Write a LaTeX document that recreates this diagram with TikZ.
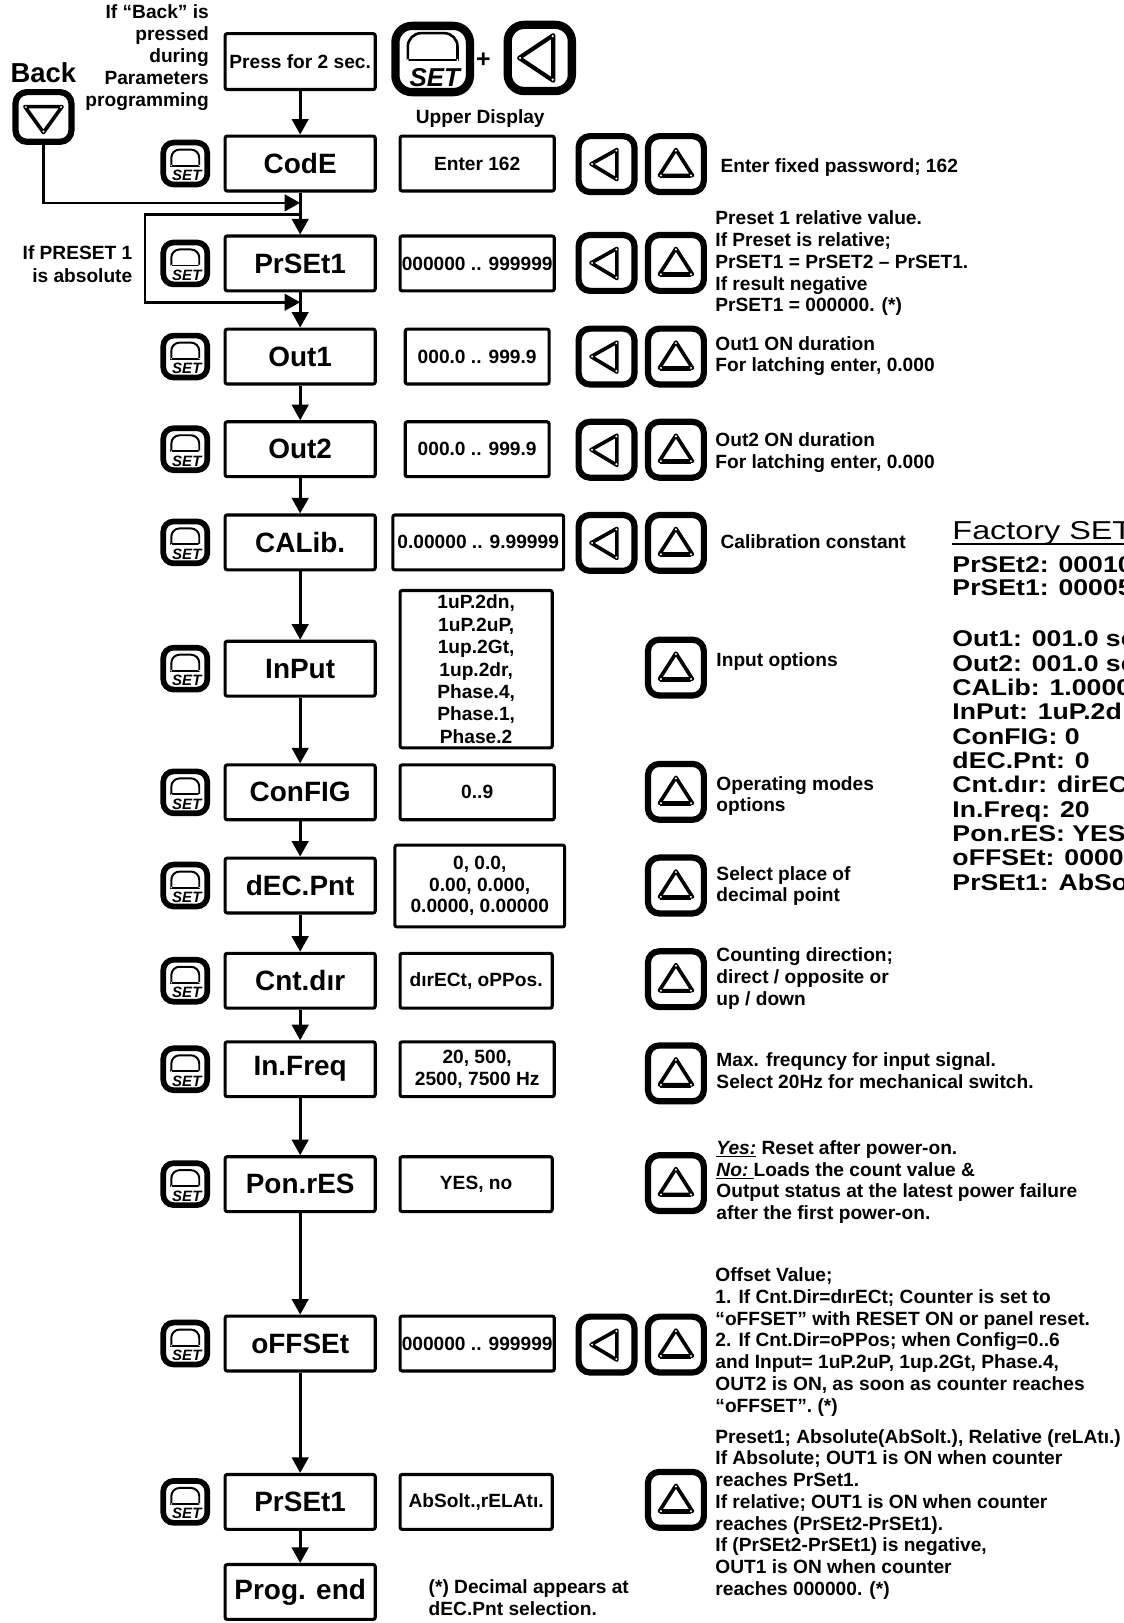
\documentclass[tikz,border=0pt]{standalone}
\usepackage{fontspec}
\setmainfont{Liberation Sans}
\newfontfamily\facfont[FakeStretch=1.17]{Liberation Sans}
\newfontfamily\titfont[FakeStretch=1.25]{Liberation Sans}
\usetikzlibrary{arrows.meta,calc}
\tikzset{
  bx/.style={draw, line width=3pt, rounded corners=2pt, inner sep=0pt},
  mainbox/.style={bx, minimum width=145pt, minimum height=53pt, font=\fontsize{27}{30}\selectfont\bfseries},
  valbox/.style={bx, minimum height=53pt, align=center, font=\fontsize{18.5}{21}\selectfont\bfseries},
  keyframe/.style={draw, line width=6pt, rounded corners=11pt, inner sep=0pt, minimum width=54pt, minimum height=54pt},
  smallkey/.style={draw, line width=5.5pt, rounded corners=10pt, inner sep=0pt, minimum width=42.5pt, minimum height=40.5pt},
  glyph/.style={line width=3.5pt, line join=round},
  settxt/.style={inner sep=0pt, font=\fontsize{14.5}{15}\selectfont\bfseries\itshape},
  flow/.style={line width=2.6pt, -{Triangle[length=15pt,width=16pt]}},
  desc/.style={anchor=north west, inner sep=0pt, align=left, font=\fontsize{18.5}{21}\selectfont\bfseries, execute at begin node=\strut},
  lbl/.style={inner sep=0pt, font=\fontsize{18.5}{21}\selectfont\bfseries},
  fac/.style={anchor=base west, inner sep=0pt, font=\facfont\bfseries\fontsize{22}{24}\selectfont},
}
\newcommand\KeyLeft[3]{%
  \node[keyframe] (#1) at (#2,#3) {};
  \begin{scope}[shift={(#1.center)}]
    \draw[glyph] (-15,0) -- (10,-14) -- (10,15) -- cycle;
    \fill[white] (-14,0) circle (1.1pt) (9.5,-13) circle (1.1pt) (9.5,14) circle (1.1pt);
  \end{scope}}
\newcommand\KeyUp[3]{%
  \node[keyframe] (#1) at (#2,#3) {};
  \begin{scope}[shift={(#1.center)}]
    \draw[glyph] (0,-14) -- (-16,11) -- (16,11) -- cycle;
    \draw[line width=4.5pt] (-15,11.5) -- (15,11.5);
    \fill[white] (0,-13) circle (1.1pt) (-14.5,11) circle (1.1pt) (14.5,11) circle (1.1pt);
  \end{scope}}
\newcommand\KeySet[3]{%
  \node[smallkey] (#1) at (#2,#3) {};
  \begin{scope}[shift={(#1.center)}]
    \draw[line width=1.9pt, rounded corners=8pt] (-13.5,2) -- (-13.5,-13.5) -- (13.5,-13.5) -- (13.5,2);
    \draw[line width=1.9pt] (-14.4,2) -- (14.4,2);
    \fill[white] (-13.5,2) circle (0.8pt) (13.5,2) circle (0.8pt);
    \node[settxt] (#1t) at (1.5,11.5) {SET};
  \end{scope}}
\newcommand\Desc[4]{\node[desc] (#1) at (#2,#3-8.3) {#4};}
\begin{document}
\begin{tikzpicture}[x=1pt,y=-1pt]
\useasboundingbox[fill=white] (0,0) rectangle (1085,1568);

% ---- top part
\node[anchor=north east, align=right, inner sep=0pt, font=\fontsize{18.5}{21.3}\selectfont\bfseries, execute at begin node=\strut] (ifback) at (202,4.5)
  {If “Back” is\\pressed\\during\\Parameters\\programming};
\node[inner sep=0pt, font=\fontsize{26.5}{30}\selectfont\bfseries] (backlbl) at (42,70) {Back};
\node[keyframe, minimum width=54pt, minimum height=48pt] (bk) at (42,113) {};
\begin{scope}[shift={(bk.center)}]
  \draw[glyph] (-18,-10) -- (18,-10) -- (0,15) -- cycle;
  \fill[white] (-17,-9.5) circle (1.1pt) (17,-9.5) circle (1.1pt) (0,14) circle (1.1pt);
\end{scope}

\node[bx, minimum width=145pt, minimum height=54pt, font=\fontsize{18.5}{21}\selectfont\bfseries] (press) at (290,59.5) {Press for 2 sec.};
\node[keyframe, line width=8pt, rounded corners=16pt, minimum width=72pt, minimum height=64pt] (bset) at (418,57) {};
\begin{scope}[shift={(bset.center)}]
  \draw[line width=2.5pt, rounded corners=13pt] (-24,1) -- (-24,-25) -- (24,-25) -- (24,1);
  \draw[line width=2.5pt] (-25.2,1) -- (25.2,1);
  \fill[white] (-24,1) circle (1.1pt) (24,1) circle (1.1pt);
  \node[inner sep=0pt, font=\fontsize{25}{26}\selectfont\bfseries\itshape] (bsett) at (2,17.5) {SET};
\end{scope}
\node[inner sep=0pt, font=\fontsize{24}{26}\selectfont\bfseries] (plus) at (467,58) {+};
\node[keyframe, line width=8pt, rounded corners=16pt, minimum width=62pt, minimum height=64pt] (bleft) at (521.5,56) {};
\begin{scope}[shift={(bleft.center)}]
  \draw[line width=4pt, line join=round] (-20,0) -- (13,-22) -- (13,22) -- cycle;
  \fill[white] (-19,0) circle (1.2pt) (12.5,-21) circle (1.2pt) (12.5,21) circle (1.2pt);
\end{scope}
\node[lbl] (upper) at (464,115) {Upper Display};

% ---- main column
\node[mainbox] (code) at (290,158) {CodE};
\node[mainbox] (prs)  at (290,254.5) {PrSEt1};
\node[mainbox] (o1)   at (290,344.5) {Out1};
\node[mainbox] (o2)   at (290,434) {Out2};
\node[mainbox] (cal)  at (290,524) {CALib.};
\node[mainbox] (inp)  at (290,646) {InPut};
\node[mainbox] (cfg)  at (290,765.5) {ConFIG};
\node[mainbox] (dec)  at (290,855.5) {dEC.Pnt};
\node[mainbox] (cnt)  at (290,947.5) {Cnt.dır};
\node[mainbox] (frq)  at (290,1033) {In.Freq};
\node[mainbox] (pon)  at (290,1144) {Pon.rES};
\node[mainbox] (off)  at (290,1298) {oFFSEt};
\node[mainbox] (prsb) at (290,1451) {PrSEt1};
\node[mainbox] (pend) at (290,1538) {Prog. end};

% ---- value boxes
\node[valbox, minimum width=149pt] (vcode) at (461,158) {Enter 162};
\node[valbox, minimum width=149pt] (vprs) at (461,254.5) {000000 .. 999999};
\node[valbox, minimum width=139pt] (vo1) at (461,344.5) {000.0 .. 999.9};
\node[valbox, minimum width=139pt] (vo2) at (461,434) {000.0 .. 999.9};
\node[valbox, minimum width=165pt] (vcal) at (462,524) {0.00000 .. 9.99999};
\node[valbox, minimum width=147pt, minimum height=152pt, font=\fontsize{18.5}{21.7}\selectfont\bfseries] (vinp) at (460,646.5)
  {1uP.2dn,\\1uP.2uP,\\1up.2Gt,\\1up.2dr,\\Phase.4,\\Phase.1,\\Phase.2};
\node[valbox, minimum width=149pt] (vcfg) at (461,765.5) {0..9};
\node[valbox, minimum width=164pt, minimum height=79pt] (vdec) at (463.5,856) {0, 0.0,\\0.00, 0.000,\\0.0000, 0.00000};
\node[valbox, minimum width=147pt] (vcnt) at (460,947.5) {dırECt, oPPos.};
\node[valbox, minimum width=149pt, font=\fontsize{18.5}{22}\selectfont\bfseries] (vfrq) at (461,1033) {20, 500,\\2500, 7500 Hz};
\node[valbox, minimum width=147pt] (vpon) at (460,1144) {YES, no};
\node[valbox, minimum width=149pt] (voff) at (461,1298) {000000 .. 999999};
\node[valbox, minimum width=147pt] (vprsb) at (460,1451) {AbSolt.,rELAtı.};

% ---- SET keys
\KeySet{s1}{179}{158}
\KeySet{s2}{179}{254.5}
\KeySet{s3}{179}{344.5}
\KeySet{s4}{179}{434}
\KeySet{s5}{179}{524}
\KeySet{s6}{179}{646}
\KeySet{s7}{179}{765.5}
\KeySet{s8}{179}{855.5}
\KeySet{s9}{179}{947.5}
\KeySet{s10}{179}{1033}
\KeySet{s11}{179}{1144}
\KeySet{s12}{179}{1298}
\KeySet{s13}{179}{1451}

% ---- left / up keys
\KeyLeft{l1}{586}{158.5}\KeyUp{u1}{653}{158.5}
\KeyLeft{l2}{586}{254}\KeyUp{u2}{653}{254}
\KeyLeft{l3}{586}{344.5}\KeyUp{u3}{653}{344.5}
\KeyLeft{l4}{586}{434.5}\KeyUp{u4}{653}{434.5}
\KeyLeft{l5}{586}{524.5}\KeyUp{u5}{653}{524.5}
\KeyUp{u6}{653}{645}
\KeyUp{u7}{653}{765}
\KeyUp{u8}{653}{855.5}
\KeyUp{u9}{653}{946}
\KeyUp{u10}{653}{1037}
\KeyUp{u11}{653}{1143}
\KeyLeft{l12}{586}{1299}\KeyUp{u12}{653}{1299}
\KeyUp{u13}{653}{1449}

% ---- descriptions
\Desc{d1}{696}{160}{Enter fixed password; 162}
\Desc{d2}{691}{212}{Preset 1 relative value.\\If Preset is relative;\\PrSET1 = PrSET2 – PrSET1.\\If result negative\\PrSET1 = 000000. (*)}
\Desc{d3}{691}{333}{Out1 ON duration\\For latching enter, 0.000}
\Desc{d4}{691}{426}{Out2 ON duration\\For latching enter, 0.000}
\Desc{d5}{696}{523}{Calibration constant}
\Desc{d6}{692}{637}{Input options}
\Desc{d7}{692}{758}{Operating modes\\options}
\Desc{d8}{692}{845}{Select place of\\decimal point}
\Desc{d9}{692}{924}{Counting direction;\\direct / opposite or\\up / down}
\Desc{d10}{692}{1025}{Max. frequncy for input signal.\\Select 20Hz for mechanical switch.}
\Desc{d11}{692}{1110}{\underline{\textit{Yes:}} Reset after power-on.\\\underline{\textit{No:}\ }Loads the count value \&\\Output status at the latest power failure\\after the first power-on.}
\Desc{d12}{691}{1233}{Offset Value;\\1. If Cnt.Dir=dırECt; Counter is set to\\“oFFSET” with RESET ON or panel reset.\\2. If Cnt.Dir=oPPos; when Config=0..6\\and Input= 1uP.2uP, 1up.2Gt, Phase.4,\\OUT2 is ON, as soon as counter reaches\\“oFFSET”. (*)}
\Desc{d13}{691}{1389}{Preset1; Absolute(AbSolt.), Relative (reLAtı.)\\If Absolute; OUT1 is ON when counter\\reaches PrSet1.\\If relative; OUT1 is ON when counter\\reaches (PrSEt2-PrSEt1).\\If (PrSEt2-PrSEt1) is negative,\\OUT1 is ON when counter\\reaches 000000. (*)}
\Desc{note}{414}{1534}{(*) Decimal appears at\\dEC.Pnt selection.}
\node[anchor=north east, align=right, inner sep=0pt, font=\fontsize{18.5}{22}\selectfont\bfseries, execute at begin node=\strut] (ifabs) at (128,237.5)
  {If PRESET 1\\is absolute};

% ---- factory settings
\node[anchor=base west, inner sep=0pt, font=\titfont\fontsize{25}{28}\selectfont] (ftitle) at (920,521) {Factory SET};
\draw[line width=2pt] ($(ftitle.base west)+(0,5)$) -- ($(ftitle.base east)+(0,5)$);
\node[fac] (f1) at (920,553) {PrSEt2: 00010};
\node[fac] (f2) at (920,575) {PrSEt1: 00005};
\node[fac] (f3) at (920,625) {Out1: 001.0 se};
\node[fac] (f4) at (920,648.5) {Out2: 001.0 se};
\node[fac] (f5) at (920,672) {CALib: 1.0000};
\node[fac] (f6) at (920,695.5) {InPut: 1uP.2d};
\node[fac] (f7) at (920,719) {ConFIG: 0};
\node[fac] (f8) at (920,742.5) {dEC.Pnt: 0};
\node[fac] (f9) at (920,766) {Cnt.dır: dirEC};
\node[fac] (f10) at (920,789.5) {In.Freq: 20};
\node[fac] (f11) at (920,813) {Pon.rES: YES};
\node[fac] (f12) at (920,836.5) {oFFSEt: 00000};
\node[fac] (f13) at (920,860) {PrSEt1: AbSo};

% ---- connectors
\coordinate (jb) at (290,196);
\coordinate (la) at (290,207);
\coordinate (lb) at (140,207);
\coordinate (lc) at (140,292);
\coordinate (ld) at (290,292);
\draw[flow] (press.south) -- (code.north);
\draw[flow] (code.south) -- (prs.north);
\draw[flow] (bk.south) |- (jb);
\draw[flow] (la) -- (lb) -- (lc) -- (ld);
\draw[flow] (prs.south) -- (o1.north);
\draw[flow] (o1.south) -- (o2.north);
\draw[flow] (o2.south) -- (cal.north);
\draw[flow] (cal.south) -- (inp.north);
\draw[flow] (inp.south) -- (cfg.north);
\draw[flow] (cfg.south) -- (dec.north);
\draw[flow] (dec.south) -- (cnt.north);
\draw[flow] (cnt.south) -- (frq.north);
\draw[flow] (frq.south) -- (pon.north);
\draw[flow] (pon.south) -- (off.north);
\draw[flow] (off.south) -- (prsb.north);
\draw[flow] (prsb.south) -- (pend.north);
\end{tikzpicture}
\end{document}
